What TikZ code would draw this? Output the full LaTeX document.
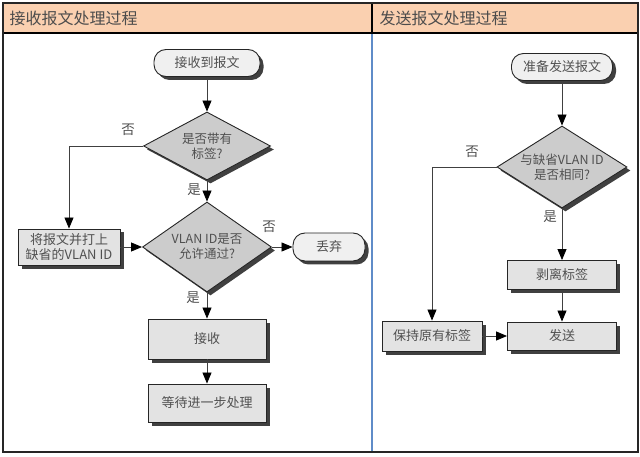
\documentclass[tikz,border=0pt]{standalone}
\usepackage{fontspec}
\setmainfont{Noto Sans CJK SC}
\usetikzlibrary{shapes.geometric,shadows,arrows.meta}
\definecolor{headfill}{RGB}{250,208,176}
\definecolor{laneblue}{RGB}{95,140,200}
\definecolor{txtgray}{RGB}{80,80,80}
\tikzset{
  shadowed/.style={drop shadow={opacity=1,fill=black!75,shadow xshift=3.5pt,shadow yshift=-3.5pt}},
  terminal/.style={draw=black!85,line width=0.9pt,fill=black!6,rounded corners=12pt,minimum height=27pt,
    text=txtgray,font=\fontsize{13}{15}\selectfont,shadowed},
  procbox/.style={draw=black!85,line width=0.9pt,fill=black!11,align=center,
    text=txtgray,font=\fontsize{13}{15.5}\selectfont,shadowed},
  decision/.style={diamond,draw=black!85,line width=0.9pt,fill=black!20,inner sep=0pt,shape aspect=1.5,
    align=center,text=txtgray,font=\fontsize{12.5}{15}\selectfont,shadowed},
  lbl/.style={text=txtgray,font=\fontsize{13.5}{15}\selectfont},
  arr/.style={draw=black!75,line width=0.8pt,-{Triangle[length=11pt,width=9pt,color=black]}}
}
\begin{document}
\begin{tikzpicture}[x=1pt,y=-1pt]
    \useasboundingbox (0,0) rectangle (640,457);
    % frame and lanes
    \fill[headfill] (3,3) rectangle (638,33);
    \draw[laneblue,line width=1.2pt] (372,33) -- (372,452);
    \draw[black,line width=1.6pt] (372,3) -- (372,33);
    \draw[black,line width=1.6pt] (3,33) -- (638,33);
    \draw[black!85,line width=1.6pt] (3,3) rectangle (638,452);
    \node[anchor=west,text=black!70,font=\fontsize{16}{18}\selectfont] (title1) at (6,18) {接收报文处理过程};
    \node[anchor=west,text=black!70,font=\fontsize{16}{18}\selectfont] (title2) at (376,18) {发送报文处理过程};
    % receive side
    \node[terminal,minimum width=106pt] (rcv) at (207,63) {接收到报文};
    \node[decision,minimum width=127pt,minimum height=68pt] (tagq) at (207,146) {是否带有\\标签?};
    \node[decision,minimum width=129pt,minimum height=90pt] (vlanq) at (207,247) {VLAN ID是否\\允许通过?};
    \node[procbox,minimum width=102pt,minimum height=36pt] (addtag) at (69,247) {将报文并打上\\缺省的VLAN ID};
    \node[terminal,minimum width=72pt,minimum height=28pt] (drop) at (329,247) {丢弃};
    \node[procbox,minimum width=118pt,minimum height=40pt] (accept) at (207,339) {接收};
    \node[procbox,minimum width=118pt,minimum height=38pt] (wait) at (207,403) {等待进一步处理};
    \node[lbl] (no1) at (128,130) {否};
    \node[lbl] (yes1) at (194,190) {是};
    \node[lbl] (no2) at (269,227) {否};
    \node[lbl] (yes2) at (193,298) {是};
    \draw[arr] (rcv) -- (tagq);
    \draw[arr] (tagq.west) -| (addtag.north);
    \draw[arr] (tagq.south) -- (vlanq.north);
    \draw[arr] (addtag.east) -- (vlanq.west);
    \draw[arr] (vlanq.east) -- (drop.west);
    \draw[arr] (vlanq.south) -- (accept.north);
    \draw[arr] (accept) -- (wait);
    % send side
    \node[terminal,minimum width=101pt] (snd) at (562,67) {准备发送报文};
    \node[decision,minimum width=130pt,minimum height=80pt] (pvidq) at (562,167) {与缺省VLAN ID\\是否相同?};
    \node[procbox,minimum width=109pt,minimum height=29pt] (strip) at (562,275) {剥离标签};
    \node[procbox,minimum width=109pt,minimum height=28pt] (send) at (562,336) {发送};
    \node[procbox,minimum width=100pt,minimum height=30pt] (keep) at (432,336) {保持原有标签};
    \node[lbl] (no3) at (472,152) {否};
    \node[lbl] (yes3) at (550,217) {是};
    \draw[arr] (snd) -- (pvidq);
    \draw[arr] (pvidq.west) -| (keep.north);
    \draw[arr] (pvidq.south) -- (strip.north);
    \draw[arr] (strip) -- (send);
    \draw[arr] (keep) -- (send);
\end{tikzpicture}
\end{document}
